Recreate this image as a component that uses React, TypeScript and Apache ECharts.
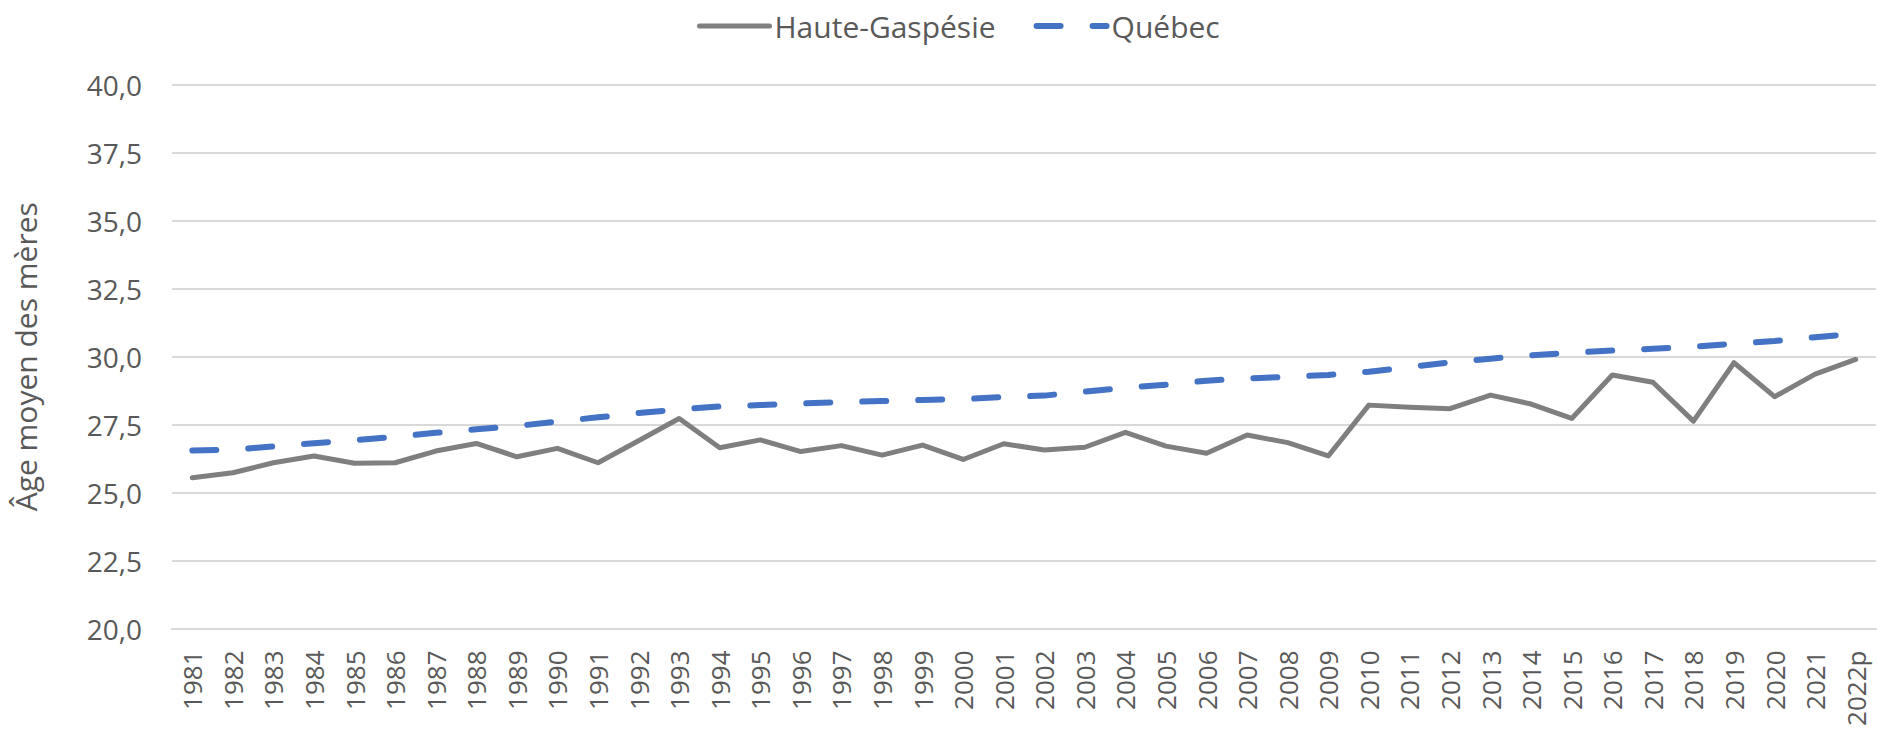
import React, { useEffect, useRef } from "react";
import * as echarts from "echarts";

const years = [
  "1981", "1982", "1983", "1984", "1985", "1986", "1987", "1988", "1989", "1990",
  "1991", "1992", "1993", "1994", "1995", "1996", "1997", "1998", "1999", "2000",
  "2001", "2002", "2003", "2004", "2005", "2006", "2007", "2008", "2009", "2010",
  "2011", "2012", "2013", "2014", "2015", "2016", "2017", "2018", "2019", "2020",
  "2021", "2022p",
];

const hauteGaspesie = [
  25.55, 25.73, 26.1, 26.35, 26.08, 26.1, 26.53, 26.81, 26.32, 26.63,
  26.1, 26.91, 27.73, 26.65, 26.94, 26.51, 26.73, 26.38, 26.75, 26.22,
  26.8, 26.57, 26.67, 27.22, 26.71, 26.45, 27.12, 26.84, 26.35, 28.22,
  28.14, 28.09, 28.59, 28.26, 27.73, 29.33, 29.06, 27.63, 29.78, 28.53,
  29.36, 29.9,
];

const quebec = [
  26.55, 26.58, 26.7, 26.82, 26.93, 27.05, 27.2, 27.33, 27.45, 27.62,
  27.77, 27.93, 28.06, 28.17, 28.22, 28.28, 28.33, 28.37, 28.41, 28.44,
  28.52, 28.57, 28.72, 28.86, 28.97, 29.12, 29.2, 29.26, 29.33, 29.45,
  29.62, 29.79, 29.93, 30.05, 30.15, 30.23, 30.29, 30.37, 30.48, 30.58,
  30.72, 30.85,
];

const yMin = 20;
const yMax = 40;
const yStep = 2.5;
const yTitle = "Âge moyen des mères";
const seriesNames = ["Haute-Gaspésie", "Québec"];

const FONT = "'Open Sans', sans-serif";
const TEXT = "#595959";

export default function App() {
  const ref = useRef<HTMLDivElement>(null);

  useEffect(() => {
    if (!ref.current) return;
    const chart = echarts.init(ref.current, null, { renderer: "svg" });
    chart.setOption({
      animation: false,
      backgroundColor: "#ffffff",
      textStyle: { fontFamily: FONT, color: TEXT },
      legend: {
        top: 6,
        left: 692,
        itemWidth: 70,
        itemHeight: 14,
        itemGap: 38,
        itemStyle: { opacity: 0 },
        lineStyle: { width: "inherit", type: "inherit", cap: "round" },
        textStyle: { fontFamily: FONT, fontSize: 30, color: TEXT },
        data: seriesNames,
      },
      grid: { left: 172, right: 1, top: 85, bottom: 101.5, containLabel: false },
      xAxis: {
        type: "category",
        data: years,
        boundaryGap: true,
        axisLine: { show: true, lineStyle: { color: "#d9d9d9", width: 2 } },
        axisTick: { show: false },
        axisLabel: {
          rotate: 90,
          margin: 22,
          interval: 0,
          fontFamily: FONT,
          fontSize: 26,
          color: TEXT,
        },
      },
      yAxis: {
        type: "value",
        min: yMin,
        max: yMax,
        interval: yStep,
        name: yTitle,
        nameLocation: "middle",
        nameRotate: 90,
        nameGap: 132,
        nameTextStyle: { fontFamily: FONT, fontSize: 30, color: TEXT },
        axisLine: { show: false },
        axisTick: { show: false },
        splitLine: { lineStyle: { color: "#d9d9d9", width: 2 } },
        axisLabel: {
          margin: 30,
          fontFamily: FONT,
          fontSize: 28,
          color: TEXT,
          formatter: (v: number) => v.toFixed(1).replace(".", ","),
        },
      },
      series: [
        {
          name: seriesNames[0],
          type: "line",
          data: hauteGaspesie,
          symbol: "none",
          lineStyle: { color: "#7f7f7f", width: 5, cap: "round", join: "round" },
          itemStyle: { color: "#7f7f7f" },
          z: 3,
        },
        {
          name: seriesNames[1],
          type: "line",
          data: quebec,
          symbol: "none",
          lineStyle: {
            color: "#4472c4",
            width: 6,
            type: [24, 32],
            cap: "round",
            join: "round",
          },
          itemStyle: { color: "#4472c4" },
          z: 2,
        },
      ],
    });
    return () => chart.dispose();
  }, []);

  return (
    <div
      ref={ref}
      style={{ position: "fixed", left: 0, top: 0, width: 1877, height: 730 }}
    />
  );
}
